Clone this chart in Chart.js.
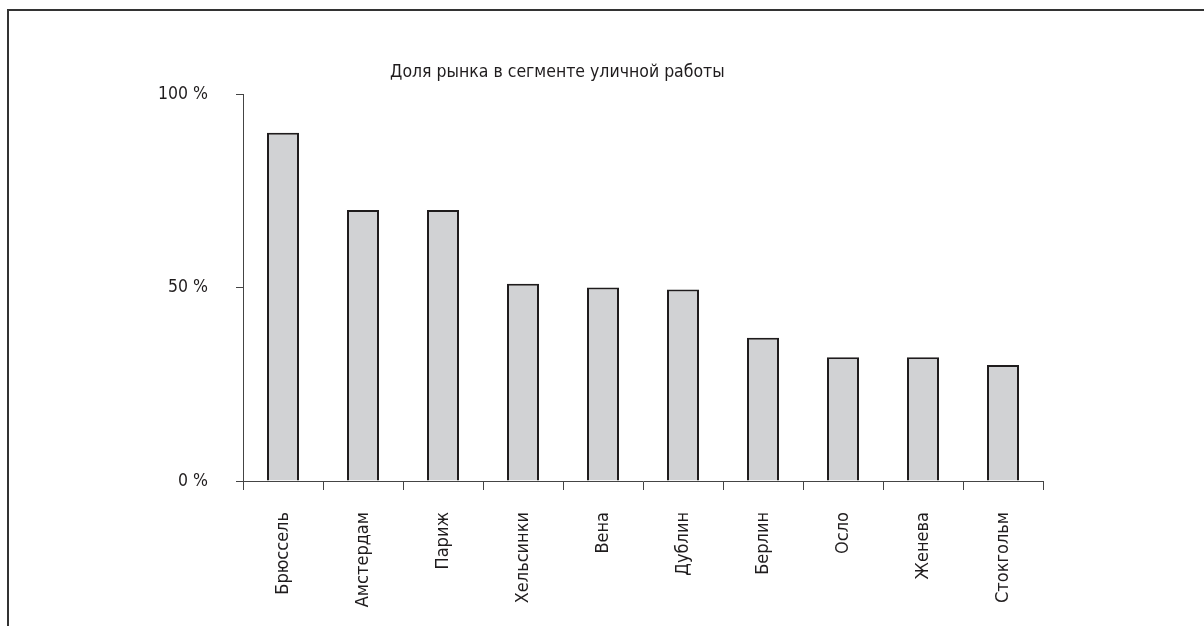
<!DOCTYPE html>
<html>
<head>
<meta charset="utf-8">
<style>
  html, body { margin: 0; padding: 0; background: #ffffff; }
  #wrap { width: 1204px; height: 626px; position: relative; }
  canvas { display: block; }
</style>
<script src="https://cdn.jsdelivr.net/npm/chart.js@4/dist/chart.umd.min.js"></script>
</head>
<body>
<div id="wrap"><canvas id="chart" width="1204" height="626"></canvas></div>
<script>
// Доля рынка в сегменте уличной работы, по городам
const cities = ['Брюссель', 'Амстердам', 'Париж', 'Хельсинки', 'Вена', 'Дублин', 'Берлин', 'Осло', 'Женева', 'Стокгольм'];
const marketShare = [90, 70, 70, 51, 50, 49.5, 37, 32, 32, 30];
const shareTicks = [0, 50, 100];
const chartTitle = 'Доля рынка в сегменте уличной работы';

const FONT = '"Liberation Sans Narrow", "Arial Narrow", "DejaVu Sans Condensed", sans-serif';
const INK = '#1f1c1d';

// Frame along the top and left edges, plus the title above the plot
const framePlugin = {
  id: 'frameAndTitle',
  beforeDraw(chart) {
    const ctx = chart.ctx;
    ctx.save();
    ctx.strokeStyle = '#333333';
    ctx.lineWidth = 2;
    ctx.beginPath();
    ctx.moveTo(1204, 10);
    ctx.lineTo(8, 10);
    ctx.lineTo(8, 626);
    ctx.stroke();
    ctx.restore();
  },
  afterDraw(chart) {
    const ctx = chart.ctx;
    const area = chart.chartArea;
    ctx.save();
    ctx.fillStyle = INK;
    ctx.font = '17.5px ' + FONT;
    ctx.textAlign = 'center';
    ctx.textBaseline = 'alphabetic';
    ctx.fillText(chartTitle, area.left + (area.right - area.left) * 0.393, 77);
    ctx.restore();
  }
};

new Chart(document.getElementById('chart'), {
  type: 'bar',
  data: {
    labels: cities,
    datasets: [{
      data: marketShare,
      backgroundColor: '#d1d2d4',
      borderColor: INK,
      borderWidth: 2,
      borderSkipped: 'bottom',
      categoryPercentage: 1.0,
      barPercentage: 0.4
    }]
  },
  options: {
    responsive: false,
    animation: false,
    events: [],
    layout: { padding: { top: 94, right: 161, left: 0, bottom: 0 } },
    plugins: {
      legend: { display: false },
      title: { display: false },
      tooltip: { enabled: false }
    },
    scales: {
      x: {
        offset: true,
        afterFit(scale) { scale.height = 145; },
        grid: {
          offset: true,
          drawOnChartArea: false,
          drawTicks: true,
          tickLength: 9,
          color: '#444444',
          lineWidth: 1
        },
        border: { display: true, color: '#444444', width: 1 },
        ticks: {
          autoSkip: false,
          maxRotation: 90,
          minRotation: 90,
          padding: 22,
          color: INK,
          font: { family: FONT, size: 18 }
        }
      },
      y: {
        min: 0,
        max: 100,
        afterFit(scale) { scale.width = 243; },
        afterBuildTicks(scale) { scale.ticks = shareTicks.map(v => ({ value: v })); },
        grid: {
          drawOnChartArea: false,
          drawTicks: true,
          tickLength: 7,
          color: '#444444',
          lineWidth: 1
        },
        border: { display: true, color: '#444444', width: 1 },
        ticks: {
          padding: 28,
          color: INK,
          font: { family: FONT, size: 17.5 },
          callback: (v) => v + ' %'
        }
      }
    }
  },
  plugins: [framePlugin]
});
</script>
</body>
</html>
